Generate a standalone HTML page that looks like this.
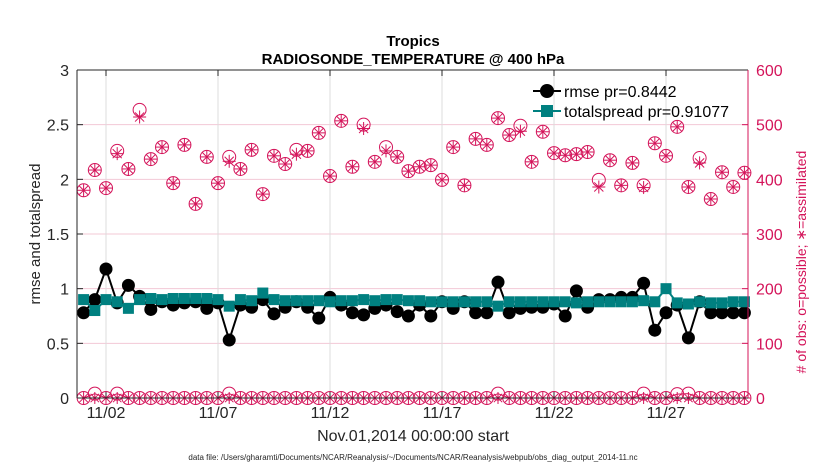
<!DOCTYPE html>
<html><head><meta charset="utf-8"><style>
body{margin:0;background:#fff;}
svg{display:block;font-family:"Liberation Sans",Arial,sans-serif;}
</style></head><body>
<svg id="chart" width="830" height="470" viewBox="0 0 830 470">
<rect x="0" y="0" width="830" height="470" fill="#fff"/>
<g id="grid"></g>
<g id="marks"></g>
<g id="axes"></g>
<text x="413" y="46" text-anchor="middle" font-size="15" font-weight="bold">Tropics</text>
<text x="413" y="64" text-anchor="middle" font-size="15" font-weight="bold">RADIOSONDE_TEMPERATURE @ 400 hPa</text>
<text x="413" y="441" text-anchor="middle" font-size="16" fill="#262626">Nov.01,2014 00:00:00 start</text>
<text x="413" y="460" text-anchor="middle" font-size="8" fill="#262626">data file: /Users/gharamti/Documents/NCAR/Reanalysis/~/Documents/NCAR/Reanalysis/webpub/obs_diag_output_2014-11.nc</text>
<text transform="translate(40,234) rotate(-90)" text-anchor="middle" font-size="15" fill="#262626">rmse and totalspread</text>
<text transform="translate(806,262) rotate(-90)" text-anchor="middle" font-size="14" fill="#d4145a"># of obs: o=possible; ∗=assimilated</text>
<g>
<line x1="533" y1="91" x2="561" y2="91" stroke="#000" stroke-width="2"/>
<circle cx="547" cy="91" r="7" fill="#000"/>
<text x="564" y="97" font-size="16">rmse pr=0.8442</text>
<line x1="533" y1="111" x2="561" y2="111" stroke="#008080" stroke-width="2"/>
<rect x="541" y="105" width="12" height="12" fill="#008080"/>
<text x="564" y="117" font-size="16">totalspread pr=0.91077</text>
</g>
</svg>
<script>
const rmse=[0.78,0.9,1.18,0.87,1.03,0.93,0.81,0.88,0.85,0.87,0.88,0.82,0.87,0.53,0.85,0.83,0.9,0.77,0.83,0.88,0.83,0.73,0.92,0.85,0.78,0.76,0.82,0.85,0.79,0.75,0.85,0.75,0.88,0.82,0.88,0.78,0.78,1.06,0.78,0.82,0.83,0.83,0.86,0.75,0.98,0.83,0.9,0.9,0.92,0.92,1.05,0.62,0.78,0.85,0.55,0.88,0.78,0.78,0.78,0.78];
const spread=[0.9,0.8,0.9,0.88,0.82,0.9,0.91,0.9,0.91,0.91,0.91,0.91,0.9,0.84,0.9,0.89,0.96,0.9,0.89,0.89,0.89,0.89,0.88,0.89,0.89,0.9,0.89,0.9,0.9,0.89,0.89,0.88,0.88,0.88,0.88,0.88,0.88,0.84,0.88,0.88,0.88,0.88,0.88,0.88,0.87,0.88,0.88,0.88,0.88,0.88,0.89,0.88,1.0,0.87,0.86,0.88,0.87,0.87,0.88,0.88];
const possible=[380,417,384,452,419,527,437,459,393,463,355,441,393,441,419,454,373,443,428,454,452,485,406,507,423,500,432,459,441,415,423,426,399,459,389,474,463,512,481,498,432,487,448,444,446,450,399,435,389,430,389,466,443,496,386,439,364,413,386,412];
const assimilated=[380,417,384,447,419,514,437,459,393,463,355,441,393,433,419,454,373,443,428,446,452,485,406,507,423,493,432,452,441,415,423,426,399,459,389,474,463,512,481,488,432,487,448,444,446,450,386,435,389,430,385,466,443,496,386,430,364,413,386,412];
const lowPossible=[0,8,0,8,0,0,0,0,0,0,0,0,0,8,0,0,0,0,0,0,0,0,0,0,0,0,0,0,0,0,0,0,0,0,0,0,0,8,0,0,0,0,0,0,0,0,0,0,0,0,8,0,0,7,8,0,0,0,0,0];
const lowAssimilated=[0,0,0,0,0,0,0,0,0,0,0,0,0,0,0,0,0,0,0,0,0,0,0,0,0,0,0,0,0,0,0,0,0,0,0,0,0,0,0,0,0,0,0,0,0,0,0,0,0,0,0,0,0,0,0,0,0,0,0,0];
const leftTicks=[0,0.5,1,1.5,2,2.5,3];
const leftTickLabels=["0","0.5","1","1.5","2","2.5","3"];
const rightTicks=[0,100,200,300,400,500,600];
const dateTickDays=[1,6,11,16,21,26];
const dateTickLabels=["11/02","11/07","11/12","11/17","11/22","11/27"];
const stepDays=0.5;

const NS="http://www.w3.org/2000/svg";
const L=77,R=748,T=70,B=398;
const x0=-0.295,x1=29.66;
function X(d){return L+(d-x0)/(x1-x0)*(R-L);}
function YL(v){return B-v/3*(B-T);}
function YR(v){return B-v/600*(B-T);}
function mk(tag,attrs,parent){const e=document.createElementNS(NS,tag);for(const k in attrs)e.setAttribute(k,attrs[k]);parent.appendChild(e);return e;}
const grid=document.getElementById('grid'),marks=document.getElementById('marks'),axes=document.getElementById('axes');
const CR="#d4145a";

leftTicks.forEach(function(v,i){
  if(v>0&&v<3){const g=mk('line',{x1:L,x2:R,y1:YL(v),y2:YL(v),stroke:'#f3c8d6','stroke-width':1},grid);
  
  }
  const t=mk('text',{x:L-8,y:YL(v)+6,'text-anchor':'end','font-size':16,fill:'#262626'},axes);
  t.textContent=leftTickLabels[i];
  
  
  mk('line',{x1:L,x2:L+6,y1:YL(v),y2:YL(v),stroke:'#262626'},axes);
});
rightTicks.forEach(function(v){
  const t=mk('text',{x:R+8,y:YR(v)+6,'text-anchor':'start','font-size':16,fill:CR},axes);
  t.textContent=String(v);
  
  
  mk('line',{x1:R-6,x2:R,y1:YR(v),y2:YR(v),stroke:CR},axes);
});
dateTickDays.forEach(function(d,i){
  const g=mk('line',{x1:X(d),x2:X(d),y1:T,y2:B,stroke:'#dcdcdc','stroke-width':1},grid);
  
  
  mk('line',{x1:X(d),x2:X(d),y1:B,y2:B-6,stroke:'#262626'},axes);
  mk('line',{x1:X(d),x2:X(d),y1:T,y2:T+6,stroke:'#262626'},axes);
  const t=mk('text',{x:X(d),y:B+20,'text-anchor':'middle','font-size':16,fill:'#262626'},axes);
  t.textContent=dateTickLabels[i];
  
  
});
mk('line',{x1:L,x2:R,y1:T,y2:T,stroke:'#262626'},axes);
mk('line',{x1:L,x2:R,y1:B,y2:B,stroke:'#262626'},axes);
mk('line',{x1:L,x2:L,y1:T,y2:B,stroke:'#262626'},axes);
mk('line',{x1:R,x2:R,y1:T,y2:B,stroke:CR},axes);

function star(cx,cy,r,parent,name){
  const g=mk('g',{stroke:CR,'stroke-width':1},parent);
  
  
  mk('line',{x1:cx-r,x2:cx+r,y1:cy,y2:cy},g);
  mk('line',{x1:cx,x2:cx,y1:cy-r,y2:cy+r},g);
  const k=r*0.7;
  mk('line',{x1:cx-k,x2:cx+k,y1:cy-k,y2:cy+k},g);
  mk('line',{x1:cx-k,x2:cx+k,y1:cy+k,y2:cy-k},g);
}
function circ(cx,cy,parent,name){
  const c=mk('circle',{cx:cx,cy:cy,r:6.5,fill:'none',stroke:CR,'stroke-width':1},parent);
  
  
}
let lp='';
lowPossible.forEach(function(v,i){lp+=(i?'L':'M')+X(i*stepDays)+','+YR(v);});
mk('path',{d:lp,fill:'none',stroke:CR,'stroke-width':1},marks);
lowPossible.forEach(function(v,i){circ(X(i*stepDays),YR(v),marks,'low-possible-point');});
lowAssimilated.forEach(function(v,i){star(X(i*stepDays),YR(v),6,marks,'low-assimilated-point');});
possible.forEach(function(v,i){circ(X(i*stepDays),YR(v),marks,'possible-point');});
assimilated.forEach(function(v,i){star(X(i*stepDays),YR(v),6.5,marks,'assimilated-point');});
let pr='';
rmse.forEach(function(v,i){pr+=(i?'L':'M')+X(i*stepDays)+','+YL(v);});
mk('path',{d:pr,fill:'none',stroke:'#000','stroke-width':2},marks);
rmse.forEach(function(v,i){
  const c=mk('circle',{cx:X(i*stepDays),cy:YL(v),r:6.5,fill:'#000'},marks);
  
  
});
let ps='';
spread.forEach(function(v,i){ps+=(i?'L':'M')+X(i*stepDays)+','+YL(v);});
mk('path',{d:ps,fill:'none',stroke:'#008080','stroke-width':2},marks);
spread.forEach(function(v,i){
  const r=mk('rect',{x:X(i*stepDays)-5.5,y:YL(v)-5.5,width:11,height:11,fill:'#008080'},marks);
  
  
});
</script>
</body></html>
